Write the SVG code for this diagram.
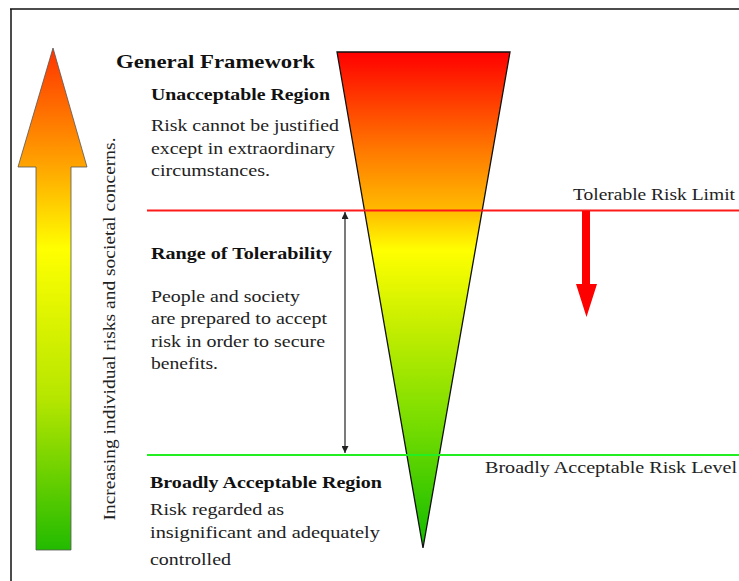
<svg xmlns="http://www.w3.org/2000/svg" width="739" height="581" viewBox="0 0 739 581" font-family="Liberation Serif, serif">
<style>
  text { font-family: 'Liberation Serif', serif; fill: #222; }
  .b { font-weight: bold; fill: #111; }
  .body { font-size: 17px; }
  .lbl { font-size: 16.5px; }
</style>
<defs>
  <linearGradient id="gArrow" x1="0" y1="48" x2="0" y2="550" gradientUnits="userSpaceOnUse">
    <stop offset="0" stop-color="#ff3300"/>
    <stop offset="0.23" stop-color="#ffa200"/>
    <stop offset="0.40" stop-color="#ffff00"/>
    <stop offset="0.70" stop-color="#b5e600"/>
    <stop offset="1" stop-color="#22bb00"/>
  </linearGradient>
  <linearGradient id="gTri" x1="0" y1="52" x2="0" y2="548" gradientUnits="userSpaceOnUse">
    <stop offset="0" stop-color="#ff0000"/>
    <stop offset="0.2" stop-color="#ff7a00"/>
    <stop offset="0.32" stop-color="#ffbb00"/>
    <stop offset="0.40" stop-color="#ffff00"/>
    <stop offset="0.55" stop-color="#c6ee00"/>
    <stop offset="0.75" stop-color="#77dd00"/>
    <stop offset="1" stop-color="#11bb00"/>
  </linearGradient>
  <marker id="ah" viewBox="0 0 10 10" refX="10" refY="5" markerWidth="7" markerHeight="7" markerUnits="userSpaceOnUse" orient="auto-start-reverse">
    <path d="M0,0 L10,5 L0,10 z" fill="#222"/>
  </marker>
</defs>

<g id="frame">
  <line x1="10" y1="9" x2="739" y2="9" stroke="#111" stroke-width="1.5"/>
  <line x1="11" y1="9" x2="11" y2="581" stroke="#111" stroke-width="1.5"/>
</g>

<g id="concern-arrow">
  <polygon points="53,48 87,167 71,167 71,550 36,550 36,167 18,167" fill="url(#gArrow)" stroke="#555" stroke-width="0.8"/>
  <text class="body" transform="translate(115,329) rotate(-90)" text-anchor="middle" textLength="383" lengthAdjust="spacingAndGlyphs">Increasing individual risks and societal concerns.</text>
</g>

<g id="triangle">
  <polygon points="337,52 510,52 423,548" fill="url(#gTri)" stroke="#111" stroke-width="1.3"/>
</g>

<g id="connectors">
  <line id="tolerable-limit-line" x1="147" y1="210.5" x2="739" y2="210.5" stroke="#ff1a1a" stroke-width="1.8"/>
  <line id="acceptable-level-line" x1="147" y1="455" x2="739" y2="455" stroke="#22ee22" stroke-width="2"/>
  <line id="tolerability-range" x1="345" y1="212" x2="345" y2="453" stroke="#333" stroke-width="1.3" marker-start="url(#ah)" marker-end="url(#ah)"/>
  <polygon id="down-arrow" points="582,211 590,211 590,284 597,284 586.5,317 576,284 582,284" fill="#ff0000"/>
</g>

<g id="title">
  <text class="b" x="116" y="68" font-size="19.5" textLength="199" lengthAdjust="spacingAndGlyphs">General Framework</text>
</g>

<g id="unacceptable-region">
  <text class="b" x="151" y="100" font-size="17.5" textLength="179" lengthAdjust="spacingAndGlyphs">Unacceptable Region</text>
  <text class="body" x="151" y="131" textLength="188" lengthAdjust="spacingAndGlyphs">Risk cannot be justified</text>
  <text class="body" x="151" y="153.5" textLength="184" lengthAdjust="spacingAndGlyphs">except in extraordinary</text>
  <text class="body" x="151" y="176" textLength="119" lengthAdjust="spacingAndGlyphs">circumstances.</text>
</g>

<g id="tolerability-region">
  <text class="b" x="151" y="259" font-size="17.5" textLength="181" lengthAdjust="spacingAndGlyphs">Range of Tolerability</text>
  <text class="body" x="151" y="302" textLength="149" lengthAdjust="spacingAndGlyphs">People and society</text>
  <text class="body" x="151" y="324" textLength="176" lengthAdjust="spacingAndGlyphs">are prepared to accept</text>
  <text class="body" x="151" y="346.5" textLength="174" lengthAdjust="spacingAndGlyphs">risk in order to secure</text>
  <text class="body" x="151" y="369" textLength="67" lengthAdjust="spacingAndGlyphs">benefits.</text>
</g>

<g id="acceptable-region">
  <text class="b" x="150" y="488" font-size="17.5" textLength="232" lengthAdjust="spacingAndGlyphs">Broadly Acceptable Region</text>
  <text class="body" x="150" y="515" textLength="134" lengthAdjust="spacingAndGlyphs">Risk regarded as</text>
  <text class="body" x="150" y="537.5" textLength="230" lengthAdjust="spacingAndGlyphs">insignificant and adequately</text>
  <text class="body" x="150" y="565" textLength="81" lengthAdjust="spacingAndGlyphs">controlled</text>
</g>

<g id="tolerable-limit-label">
  <text class="lbl" x="573" y="200" textLength="162" lengthAdjust="spacingAndGlyphs">Tolerable Risk Limit</text>
</g>

<g id="acceptable-level-label">
  <text class="lbl" x="485" y="473" textLength="252" lengthAdjust="spacingAndGlyphs">Broadly Acceptable Risk Level</text>
</g>
</svg>
